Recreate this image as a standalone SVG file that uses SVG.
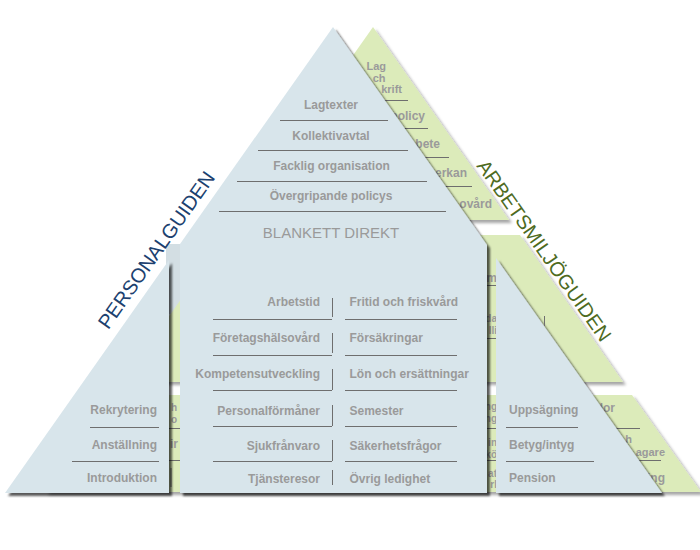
<svg xmlns="http://www.w3.org/2000/svg" width="700" height="550" viewBox="0 0 700 550">
<style>
.g{fill:#dcebba}
.b{fill:#d8e5eb}
.t{font-family:"Liberation Sans",Arial,sans-serif;font-size:12px;font-weight:bold;fill:#9a9a9a}
.s{font-size:10px}
.r{font-size:11px}
.e{text-anchor:end}
.m{text-anchor:middle}
.l{stroke:#6e6e6e;stroke-width:1;fill:none}
.h{font-family:"Liberation Sans",Arial,sans-serif;font-size:20px;text-anchor:middle}
</style>
<defs>
<filter id="sb" x="-10%" y="-10%" width="125%" height="125%"><feDropShadow dx="3" dy="3" stdDeviation="1.2" flood-color="#000" flood-opacity="0.65"/></filter>
<filter id="sg" x="-10%" y="-10%" width="125%" height="125%"><feDropShadow dx="3" dy="3" stdDeviation="1.5" flood-color="#000" flood-opacity="0.35"/></filter>
</defs>
<rect width="700" height="550" fill="#fff"/>
<rect x="166" y="244" width="16" height="70" fill="#d3dee3"/>

<g id="arbetsmiljoguiden">
  <g id="green-top">
    <polygon class="g" filter="url(#sg)" points="373,27 509,220 237,220"/>
    <text class="t r e"><tspan x="386" y="70">Lag</tspan><tspan x="385.5" y="81.5">ch</tspan><tspan x="402" y="93">krift</tspan></text>
    <line class="l" x1="300" y1="100.5" x2="408" y2="100.5"/>
    <text class="t e" x="425" y="120">policy</text>
    <line class="l" x1="300" y1="128.5" x2="428" y2="128.5"/>
    <text class="t e" x="440" y="148">bete</text>
    <line class="l" x1="300" y1="157.5" x2="449" y2="157.5"/>
    <text class="t e" x="467" y="177">erkan</text>
    <line class="l" x1="300" y1="186.5" x2="472" y2="186.5"/>
    <text class="t e" x="492" y="208">ovård</text>
  </g>
  <g id="green-middle">
    <polygon class="g" filter="url(#sg)" points="226,235 520,235 623,382 123,382"/>
    <text class="t e" x="497" y="281.5">om</text>
    <line class="l" x1="480" y1="285.5" x2="497" y2="285.5"/>
    <text class="t s e"><tspan x="497" y="322">da</tspan><tspan x="497" y="333.5">lli</tspan></text>
    <line class="l" x1="480" y1="338.5" x2="497" y2="338.5"/>
  </g>
  <g id="green-bottom">
    <polygon class="g" filter="url(#sg)" points="114,395 632,395 701,492 45,492"/>
    <text class="t s"><tspan x="171" y="411">h</tspan><tspan x="171" y="422.5">o</tspan></text>
    <line class="l" x1="165" y1="428.5" x2="185" y2="428.5"/>
    <text class="t" x="170" y="448">ir</text>
    <line class="l" x1="165" y1="460.5" x2="185" y2="460.5"/>
    <line class="l" x1="171" y1="468" x2="171" y2="487"/>
    <text class="t s e"><tspan x="497" y="410">ng</tspan><tspan x="497" y="422">ng</tspan></text>
    <line class="l" x1="480" y1="428.5" x2="497" y2="428.5"/>
    <text class="t s e"><tspan x="497" y="446">in</tspan><tspan x="497" y="457.5">kö</tspan></text>
    <line class="l" x1="480" y1="460.5" x2="497" y2="460.5"/>
    <text class="t s e"><tspan x="497" y="476.5">at</tspan><tspan x="497" y="488">rl</tspan></text>
    <text class="t e" x="615" y="412">dor</text>
    <line class="l" x1="590" y1="428.5" x2="640" y2="428.5"/>
    <text class="t r e"><tspan x="632" y="443">h</tspan><tspan x="665" y="455.5">agare</tspan></text>
    <line class="l" x1="600" y1="460.5" x2="661" y2="460.5"/>
    <text class="t e" x="665" y="482">ing</text>
  </g>
  <text class="h" fill="#4e6b1f" transform="translate(538.5,254.5) rotate(54.8)">ARBETSMILJÖGUIDEN</text>
</g>

<g id="personalguiden">
  <g id="blue-house">
    <polygon class="b" filter="url(#sb)" points="333,27 487,245 487,493 180,493 180,244"/>
    <text class="t m" x="331" y="108.5">Lagtexter</text>
    <line class="l" x1="280" y1="120.5" x2="388" y2="120.5"/>
    <text class="t m" x="331" y="140">Kollektivavtal</text>
    <line class="l" x1="258" y1="150.5" x2="408" y2="150.5"/>
    <text class="t m" x="331.5" y="170">Facklig organisation</text>
    <line class="l" x1="237" y1="181.5" x2="427" y2="181.5"/>
    <text class="t m" x="331" y="200">Övergripande policys</text>
    <line class="l" x1="219" y1="211.5" x2="446" y2="211.5"/>
    <text x="331" y="237.5" font-family="Liberation Sans, Arial, sans-serif" font-size="15" fill="#9a9a9a" text-anchor="middle">BLANKETT DIREKT</text>

    <text class="t e" x="320" y="306">Arbetstid</text>
    <text class="t e" x="320" y="341.5">Företagshälsovård</text>
    <text class="t e" x="320" y="378">Kompetensutveckling</text>
    <text class="t e" x="320" y="414.5">Personalförmåner</text>
    <text class="t e" x="320" y="450">Sjukfrånvaro</text>
    <text class="t e" x="320" y="482.5">Tjänsteresor</text>
    <g class="l">
      <line x1="213" y1="319.5" x2="332" y2="319.5"/>
      <line x1="213" y1="355.5" x2="332" y2="355.5"/>
      <line x1="213" y1="390.5" x2="332" y2="390.5"/>
      <line x1="213" y1="426.5" x2="332" y2="426.5"/>
      <line x1="213" y1="461.5" x2="332" y2="461.5"/>
      <line x1="332.5" y1="298" x2="332.5" y2="317"/>
      <line x1="332.5" y1="333" x2="332.5" y2="353"/>
      <line x1="332.5" y1="369" x2="332.5" y2="390"/>
      <line x1="332.5" y1="405" x2="332.5" y2="426"/>
      <line x1="332.5" y1="440" x2="332.5" y2="461"/>
      <line x1="332.5" y1="470" x2="332.5" y2="485"/>
      <line x1="345" y1="319.5" x2="457" y2="319.5"/>
      <line x1="345" y1="355.5" x2="457" y2="355.5"/>
      <line x1="345" y1="390.5" x2="457" y2="390.5"/>
      <line x1="345" y1="426.5" x2="457" y2="426.5"/>
      <line x1="345" y1="461.5" x2="457" y2="461.5"/>
    </g>
    <text class="t" x="349.5" y="306">Fritid och friskvård</text>
    <text class="t" x="349.5" y="341.5">Försäkringar</text>
    <text class="t" x="349.5" y="378">Lön och ersättningar</text>
    <text class="t" x="349.5" y="414.5">Semester</text>
    <text class="t" x="349.5" y="450">Säkerhetsfrågor</text>
    <text class="t" x="349.5" y="482.5">Övrig ledighet</text>
  </g>
  <g id="blue-left">
    <polygon class="b" filter="url(#sb)" points="169,260 169,493 5,493"/>
    <text class="t e" x="157" y="414">Rekrytering</text>
    <line class="l" x1="90" y1="427.5" x2="159" y2="427.5"/>
    <text class="t e" x="157" y="449">Anställning</text>
    <line class="l" x1="72" y1="461.5" x2="159" y2="461.5"/>
    <text class="t e" x="157" y="482">Introduktion</text>
  </g>
  <g id="blue-right">
    <polygon class="b" filter="url(#sb)" points="496,258 662,493 496,493"/>
    <line class="l" x1="544.5" y1="316" x2="544.5" y2="326"/>
    <text class="t" x="509" y="414">Uppsägning</text>
    <line class="l" x1="506" y1="427.5" x2="578" y2="427.5"/>
    <text class="t" x="509" y="449">Betyg/intyg</text>
    <line class="l" x1="506" y1="461.5" x2="594" y2="461.5"/>
    <text class="t" x="509" y="482">Pension</text>
  </g>
  <text class="h" fill="#1c416f" transform="translate(162,254) rotate(-54.8)">PERSONALGUIDEN</text>
</g>
</svg>
